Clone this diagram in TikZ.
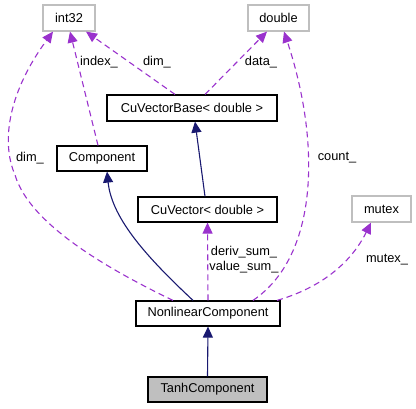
\documentclass[tikz,border=0pt]{standalone}
\usepackage{fontspec}
\setmainfont{Liberation Sans}
\usetikzlibrary{arrows.meta}
\definecolor{inh}{HTML}{191970}
\definecolor{usg}{HTML}{9A32CD}
\definecolor{gbox}{HTML}{BFBFBF}
\begin{document}
\begin{tikzpicture}[x=1pt,y=-1pt,
  font=\fontsize{12.8}{15}\selectfont,
  cls/.style={draw=black,line width=1.2pt,fill=white,inner sep=0pt,minimum height=25pt},
  ext/.style={draw=gbox,line width=1.2pt,fill=white,inner sep=0pt,minimum height=26pt},
  inhedge/.style={draw=inh,line width=1.1pt,-{Triangle[length=11pt,width=10pt]}},
  usgedge/.style={draw=usg,line width=1.1pt,dash pattern=on 6pt off 4pt,-{Triangle[length=11pt,width=10pt]}},
  lbl/.style={inner sep=0pt,align=center,font=\fontsize{12.8}{15}\selectfont}]
\useasboundingbox (0,0) rectangle (416,408);
\node[ext,minimum width=52pt] (int32) at (69,18) {int32};
\node[ext,minimum width=61pt] (double) at (278.5,18) {double};
\node[cls,minimum width=170pt,minimum height=26pt] (cvb) at (192,108) {CuVectorBase< double >};
\node[cls,minimum width=90pt] (comp) at (102,158.5) {Component};
\node[cls,minimum width=139pt] (cuv) at (207.5,209.5) {CuVector< double >};
\node[ext,minimum width=59pt] (mutex) at (381.5,209) {mutex};
\node[cls,minimum width=144pt] (nlc) at (208,313.5) {NonlinearComponent};
\node[cls,minimum width=119pt,fill=gbox] (tanh) at (207.5,389.5) {TanhComponent};
% inheritance
\draw[inhedge] (tanh.north) -- (nlc.south);
\draw[inhedge] ([xshift=-15pt]nlc.north) .. controls (150,260) and (112,220) .. ([xshift=5pt]comp.south);
\draw[inhedge] ([xshift=-2.5pt]cuv.north) -- ([xshift=3pt]cvb.south);
% usage
\draw[usgedge] ([xshift=-35pt]nlc.north) .. controls (110,270) and (30,225) .. (15,175)
   .. controls (0,140) and (10,90) .. ([xshift=-16pt]int32.south);
\draw[usgedge] ([xshift=-4pt]comp.north) -- ([xshift=1pt]int32.south);
\draw[usgedge] ([xshift=-17pt]cvb.north) -- ([xshift=17pt]int32.south);
\draw[usgedge] ([xshift=13pt]cvb.north) -- ([xshift=-11.5pt]double.south);
\draw[usgedge] ([xshift=45pt]nlc.north) .. controls (320,255) and (320,140) .. ([xshift=5.5pt]double.south);
\draw[usgedge] (nlc.north) -- (cuv.south);
\draw[usgedge] ([xshift=69pt]nlc.north) .. controls (330,285) and (355,255) .. ([xshift=-10.5pt]mutex.south);
% labels
\node[lbl] (l1) at (30,158) {dim\_};
\node[lbl] (l2) at (99,62) {index\_};
\node[lbl] (l3) at (157,62) {dim\_};
\node[lbl] (l4) at (261,62) {data\_};
\node[lbl] (l5) at (337,158) {count\_};
\node[lbl] (l6) at (244,259.5) {deriv\_sum\_\\value\_sum\_};
\node[lbl] (l7) at (387,260) {mutex\_};
\end{tikzpicture}
\end{document}
